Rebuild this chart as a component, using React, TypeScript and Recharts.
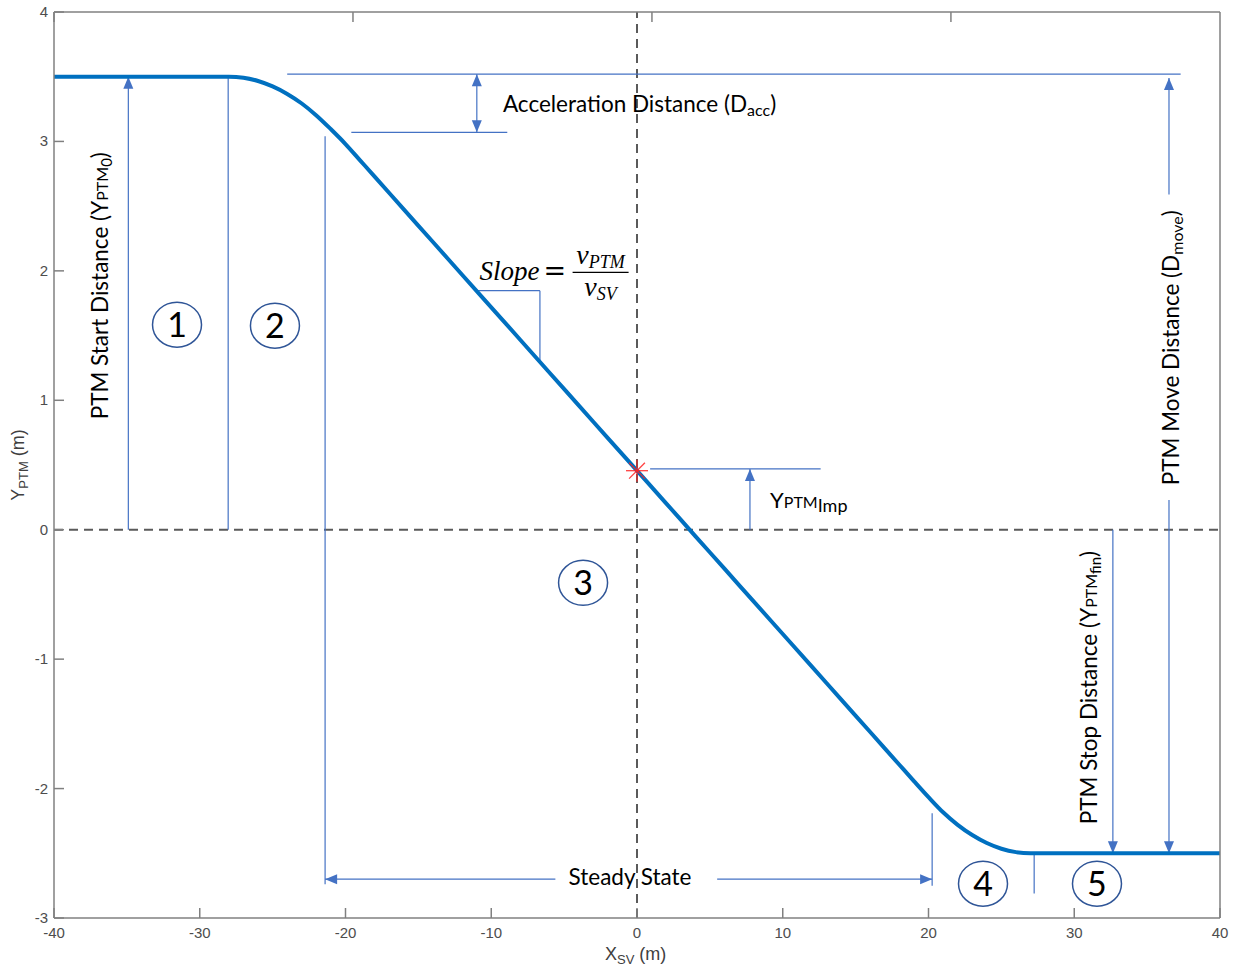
import { LineChart, Line, XAxis, YAxis, ReferenceLine, ReferenceDot } from "recharts";

// curve
const xSv = [
  -40, -28, -27, -26, -25, -24, -23, -22, -21, -20, -19, -18, -16, -14, -12, -10, -8, -6, -4, -2, 0,
  2, 4, 6, 8, 10, 12, 14, 16, 18, 19, 20, 21, 22, 23, 24, 25, 26, 27, 40,
];
const yPtm = [
  3.5, 3.5, 3.492, 3.467, 3.425, 3.367, 3.293, 3.201, 3.094, 2.98, 2.854, 2.728, 2.475, 2.223, 1.97, 1.718, 1.466, 1.213, 0.961, 0.708, 0.456,
  0.204, -0.049, -0.301, -0.554, -0.806, -1.058, -1.311, -1.563, -1.816, -1.942, -2.066, -2.183, -2.28, -2.359, -2.421, -2.465, -2.491, -2.5, -2.5,
];
const xTicks = [-40, -30, -20, -10, 0, 10, 20, 30, 40];
const yTicks = [-3, -2, -1, 0, 1, 2, 3, 4];
const impact = { x: 0, y: 0.456 };

const curve = xSv.map((x, i) => ({ x, y: yPtm[i] }));

// annotation guides, in data units: [x1, y1, x2, y2, heads]
const guides: [number, number, number, number, string][] = [
  [-34.9, 0, -34.9, 3.5, "end"],
  [-28.05, 0, -28.05, 3.5, ""],
  [-21.4, 3.04, -21.4, -2.74, ""],
  [-24.0, 3.52, 37.3, 3.52, ""],
  [-19.6, 3.07, -8.9, 3.07, ""],
  [-10.99, 3.07, -10.99, 3.52, "both"],
  [-10.98, 1.847, -6.66, 1.847, ""],
  [-6.66, 1.847, -6.66, 1.3, ""],
  [0.9, 0.47, 12.6, 0.47, ""],
  [7.75, 0, 7.75, 0.47, "end"],
  [-5.6, -2.7, -21.4, -2.7, "end"],
  [5.5, -2.7, 20.25, -2.7, "end"],
  [20.25, -2.19, 20.25, -2.75, ""],
  [27.25, -2.5, 27.25, -2.81, ""],
  [32.65, 0, 32.65, -2.5, "end"],
  [36.5, 2.59, 36.5, 3.49, "end"],
  [36.5, 0.23, 36.5, -2.5, "end"],
];

const circleLabels = ["1", "2", "3", "4", "5"];
const circleX = [-31.56, -24.84, -3.7, 23.74, 31.56];
const circleY = [1.584, 1.576, -0.41, -2.735, -2.735];

const AXIS = "#808080";
const TICK_TEXT = "#4d4d4d";
const GUIDE = "#4472C4";
const NOTE_FONT = "Lato, 'Open Sans', sans-serif";
const NOTE_SIZE = 22.5;
const SANS = "'Liberation Sans', Arial, sans-serif";

function arrowShape(heads: string) {
  return (p: any) => {
    const { x1, y1, x2, y2 } = p;
    const len = Math.hypot(x2 - x1, y2 - y1) || 1;
    const ux = (x2 - x1) / len;
    const uy = (y2 - y1) / len;
    const head = (tx: number, ty: number, dx: number, dy: number) => {
      const L = 12;
      const W = 5;
      const bx = tx - dx * L;
      const by = ty - dy * L;
      return `${tx},${ty} ${bx - dy * W},${by + dx * W} ${bx + dy * W},${by - dx * W}`;
    };
    return (
      <g>
        <line x1={x1} y1={y1} x2={x2} y2={y2} stroke={GUIDE} strokeWidth={1.2} />
        {(heads === "end" || heads === "both") && <polygon points={head(x2, y2, ux, uy)} fill={GUIDE} />}
        {heads === "both" && <polygon points={head(x1, y1, -ux, -uy)} fill={GUIDE} />}
      </g>
    );
  };
}

const BottomTick = ({ x, y, payload }: any) => (
  <g>
    <line x1={x} x2={x} y1={y} y2={y - 10} stroke={AXIS} strokeWidth={1.5} />
    <text x={x} y={y + 20} textAnchor="middle" fontSize={15} fill={TICK_TEXT} fontFamily={SANS}>
      {payload.value}
    </text>
  </g>
);
const TopTick = ({ x, y }: any) => <line x1={x} x2={x} y1={y} y2={y + 10} stroke={AXIS} strokeWidth={1.5} />;
const LeftTick = ({ x, y, payload }: any) => (
  <g>
    <line x1={x} x2={x + 10} y1={y} y2={y} stroke={AXIS} strokeWidth={1.5} />
    <text x={x - 6} y={y + 5} textAnchor="end" fontSize={15} fill={TICK_TEXT} fontFamily={SANS}>
      {payload.value}
    </text>
  </g>
);
const RightTick = ({ x, y }: any) => <line x1={x} x2={x - 10} y1={y} y2={y} stroke={AXIS} strokeWidth={1.5} />;

const Asterisk = ({ cx, cy }: any) => {
  const r = 11;
  const d = r * 0.72;
  return (
    <g stroke="#ff2020" strokeWidth={1.3} strokeOpacity={0.85}>
      <line x1={cx - r} y1={cy} x2={cx + r} y2={cy} />
      <line x1={cx} y1={cy - r} x2={cx} y2={cy + r} />
      <line x1={cx - d} y1={cy - d} x2={cx + d} y2={cy + d} />
      <line x1={cx - d} y1={cy + d} x2={cx + d} y2={cy - d} />
    </g>
  );
};

const note = (render: (cx: number, cy: number) => any) => (p: any) => render(p.cx, p.cy);

export default function App() {
  return (
    <div style={{ position: "absolute", left: 0, top: 0, background: "#fff" }}>
      <LineChart width={1233} height={968} data={curve} margin={{ top: 2, right: 3, bottom: 20, left: 14 }}>
        <XAxis
          dataKey="x"
          type="number"
          domain={[-40, 40]}
          ticks={xTicks}
          interval={0}
          allowDataOverflow
          height={30}
          tickSize={0}
          tickMargin={0}
          tickLine={false}
          tick={<BottomTick />}
          axisLine={{ stroke: AXIS, strokeWidth: 1.5 }}
          label={{
            content: (p: any) => {
              const vb = p.viewBox;
              const cx = vb.x + vb.width / 2;
              return (
                <text x={cx - 32} y={vb.y + 42} fontSize={18} fill="#404040" fontFamily={SANS}>
                  X<tspan fontSize={13} dy={4}>SV</tspan>
                  <tspan dy={-4}> (m)</tspan>
                </text>
              );
            },
          }}
        />
        <XAxis
          xAxisId="top"
          orientation="top"
          type="number"
          domain={[-40, 40]}
          ticks={xTicks}
          interval={0}
          height={10}
          tickSize={0}
          tickMargin={0}
          tickLine={false}
          tick={<TopTick />}
          axisLine={{ stroke: AXIS, strokeWidth: 1.5 }}
        />
        <YAxis
          type="number"
          domain={[-3, 4]}
          ticks={yTicks}
          interval={0}
          allowDataOverflow
          width={40}
          tickSize={0}
          tickMargin={0}
          tickLine={false}
          tick={<LeftTick />}
          axisLine={{ stroke: AXIS, strokeWidth: 1.5 }}
          label={{
            content: (p: any) => {
              const vb = p.viewBox;
              const cx = vb.x + vb.width - 30;
              const cy = vb.y + vb.height / 2;
              return (
                <text
                  x={cx}
                  y={cy}
                  transform={`rotate(-90 ${cx} ${cy})`}
                  textAnchor="middle"
                  fontSize={18}
                  fill="#404040"
                  fontFamily={SANS}
                >
                  Y<tspan fontSize={13} dy={4}>PTM</tspan>
                  <tspan dy={-4}> (m)</tspan>
                </text>
              );
            },
          }}
        />
        <YAxis
          yAxisId="right"
          orientation="right"
          type="number"
          domain={[-3, 4]}
          ticks={yTicks}
          interval={0}
          width={10}
          tickSize={0}
          tickMargin={0}
          tickLine={false}
          tick={<RightTick />}
          axisLine={{ stroke: AXIS, strokeWidth: 1.5 }}
        />

        <ReferenceLine y={0} stroke="#5a5a5a" strokeWidth={2} strokeDasharray="9 6" />
        <ReferenceLine x={0} stroke="#5a5a5a" strokeWidth={2} strokeDasharray="9 6" />

        {guides.map(([x1, y1, x2, y2, heads], i) => (
          <ReferenceLine
            key={`g${i}`}
            segment={[
              { x: x1, y: y1 },
              { x: x2, y: y2 },
            ]}
            ifOverflow="visible"
            shape={arrowShape(heads)}
          />
        ))}

        <Line
          type="monotone"
          dataKey="y"
          stroke="#0070C0"
          strokeWidth={4}
          dot={false}
          activeDot={false}
          isAnimationActive={false}
        />

        <ReferenceDot x={impact.x} y={impact.y} r={11} ifOverflow="visible" shape={<Asterisk />} />

        {circleLabels.map((lab, i) => (
          <ReferenceDot
            key={`c${i}`}
            x={circleX[i]}
            y={circleY[i]}
            r={24}
            ifOverflow="visible"
            shape={note((cx, cy) => (
              <g>
                <ellipse cx={cx} cy={cy} rx={24.5} ry={22.5} fill="none" stroke="#2F5597" strokeWidth={1.5} />
                <text x={cx} y={cy + 12} textAnchor="middle" fontSize={34} fill="#000" fontFamily={NOTE_FONT}>
                  {lab}
                </text>
              </g>
            ))}
          />
        ))}

        <ReferenceDot
          x={-9.2}
          y={3.23}
          r={1}
          ifOverflow="visible"
          shape={note((cx, cy) => (
            <text x={cx} y={cy} fontSize={NOTE_SIZE} fill="#000" fontFamily={NOTE_FONT}>
              Acceleration Distance (D<tspan fontSize={16} dy={4}>acc</tspan>
              <tspan dy={-4}>)</tspan>
            </text>
          ))}
        />

        <ReferenceDot
          x={-10.8}
          y={1.927}
          r={1}
          ifOverflow="visible"
          shape={note((cx, cy) => (
            <g fontFamily="'Liberation Serif', 'DejaVu Serif', serif" fontStyle="italic" fill="#000">
              <text x={cx} y={cy} fontSize={27}>Slope</text>
              <text x={cx + 64} y={cy} fontSize={27} fontStyle="normal" fontFamily="'DejaVu Serif', serif">=</text>
              <line x1={cx + 93} y1={cy - 8} x2={cx + 149} y2={cy - 8} stroke="#000" strokeWidth={1.3} />
              <text x={cx + 121} y={cy - 16} fontSize={28} textAnchor="middle">
                v<tspan fontSize={18} dy={4}>PTM</tspan>
              </text>
              <text x={cx + 121} y={cy + 16} fontSize={28} textAnchor="middle">
                v<tspan fontSize={18} dy={4}>SV</tspan>
              </text>
            </g>
          ))}
        />

        <ReferenceDot
          x={9.13}
          y={0.17}
          r={1}
          ifOverflow="visible"
          shape={note((cx, cy) => (
            <text x={cx} y={cy} fontSize={22} fill="#000" fontFamily={NOTE_FONT}>
              Y<tspan fontSize={16}>PTM</tspan>
              <tspan fontSize={18} dy={4}>Imp</tspan>
            </text>
          ))}
        />

        <ReferenceDot
          x={-0.48}
          y={-2.743}
          r={1}
          ifOverflow="visible"
          shape={note((cx, cy) => (
            <text x={cx} y={cy} textAnchor="middle" fontSize={NOTE_SIZE} fill="#000" fontFamily={NOTE_FONT}>
              Steady State
            </text>
          ))}
        />

        <ReferenceDot
          x={-36.3}
          y={1.885}
          r={1}
          ifOverflow="visible"
          shape={note((cx, cy) => (
            <text x={cx} y={cy} transform={`rotate(-90 ${cx} ${cy})`} textAnchor="middle" fontSize={NOTE_SIZE} fill="#000" fontFamily={NOTE_FONT}>
              PTM Start Distance (Y<tspan fontSize={16}>PTM</tspan>
              <tspan fontSize={15} dy={4}>0</tspan>
              <tspan dy={-4}>)</tspan>
            </text>
          ))}
        />

        <ReferenceDot
          x={31.56}
          y={-1.22}
          r={1}
          ifOverflow="visible"
          shape={note((cx, cy) => (
            <text x={cx} y={cy} transform={`rotate(-90 ${cx} ${cy})`} textAnchor="middle" fontSize={NOTE_SIZE} fill="#000" fontFamily={NOTE_FONT}>
              PTM Stop Distance (Y<tspan fontSize={16}>PTM</tspan>
              <tspan fontSize={15} dy={4}>fin</tspan>
              <tspan dy={-4}>)</tspan>
            </text>
          ))}
        />

        <ReferenceDot
          x={37.19}
          y={1.406}
          r={1}
          ifOverflow="visible"
          shape={note((cx, cy) => (
            <text x={cx} y={cy} transform={`rotate(-90 ${cx} ${cy})`} textAnchor="middle" fontSize={NOTE_SIZE} fill="#000" fontFamily={NOTE_FONT}>
              PTM Move Distance (D<tspan fontSize={16} dy={4}>move</tspan>
              <tspan dy={-4}>)</tspan>
            </text>
          ))}
        />
      </LineChart>
    </div>
  );
}
